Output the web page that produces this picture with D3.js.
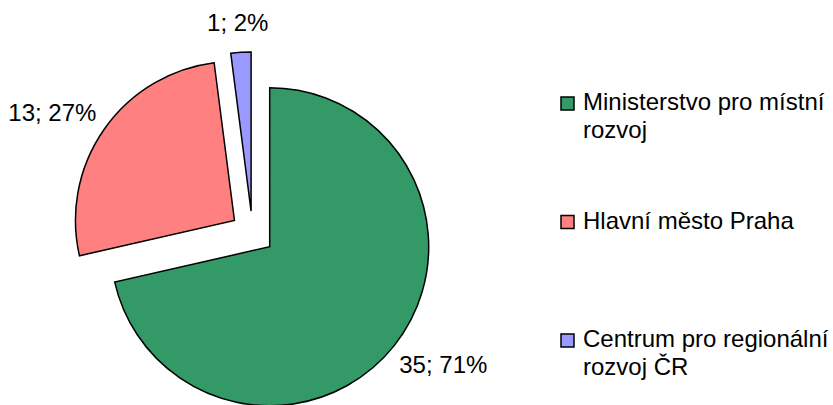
<!DOCTYPE html>
<html lang="cs">
  <head>
    <meta charset="UTF-8"/>
    <title>Pie</title>
    <script src="https://d3js.org/d3.v7.min.js"></script>
    <style>
      body { margin: 0; background: #fff; }
      text {
        font-family: 'Liberation Sans', Arial, sans-serif;
        font-size: 24px;
        fill: #000;
      }
      .slice {
        stroke: #000;
        stroke-width: 1.5px;
        stroke-linejoin: miter;
      }
    </style>
  </head>
  <body>
    <script type="text/javascript">

        // data
        const categories = ["Ministerstvo pro místní rozvoj", "Hlavní město Praha", "Centrum pro regionální rozvoj ČR"]
        const values = [35, 13, 1]
        const percents = ["71%", "27%", "2%"]
        const colors = ["#339966", "#FF8080", "#9999FF"]

        const outerWidth = 833,
              outerHeight = 405,
              cx = 252.5,
              cy = 233,
              radius = 159,
              explode = 22,
              labelRadius = 178,
              legend = ({x: 561, y: 110, step: 118.5, box: 13, lineHeight: 28, maxWidth: 252})

        const svg = d3.select("body").append("svg")
            .attr("width", outerWidth)
            .attr("height", outerHeight)

        const data = categories.map((c, i) => ({name: c, value: values[i], pct: percents[i], color: colors[i]}))

        const pie = d3.pie()
            .sort(null)
            .value(d => d.value)

        const arc = d3.arc()
            .innerRadius(0)
            .outerRadius(radius)

        const arcs = pie(data)

        const dirOf = d => {
            const a = (d.startAngle + d.endAngle) / 2
            return [Math.sin(a), -Math.cos(a)]
        }

        const g = svg.append("g")
            .attr("transform", `translate(${cx},${cy})`)

        g.selectAll("path")
            .data(arcs)
            .join("path")
            .attr("class", "slice")
            .attr("fill", d => d.data.color)
            .attr("transform", d => {
                const [dx, dy] = dirOf(d)
                return `translate(${dx * explode},${dy * explode})`
            })
            .attr("d", arc)

        // data labels, outside end: box pushed out along the bisector
        g.selectAll("text.lbl")
            .data(arcs)
            .join("text")
            .attr("class", "lbl")
            .attr("text-anchor", "middle")
            .each(function(d) {
                const [dx, dy] = dirOf(d)
                const t = d3.select(this).text(`${d.data.value}; ${d.data.pct}`)
                const w = this.getComputedTextLength(), h = 22
                const r = explode + labelRadius
                const mx = dx * r + dx * w / 2
                const my = dy * r + dy * h / 2
                t.attr("x", mx).attr("y", my + 8.5)
            })

        // legend
        const lg = svg.append("g")

        data.forEach((d, i) => {
            const y0 = legend.y + i * legend.step
            lg.append("rect")
                .attr("x", legend.x)
                .attr("y", y0 - legend.box)
                .attr("width", legend.box)
                .attr("height", legend.box)
                .attr("fill", d.color)
                .attr("stroke", "#000")
                .attr("stroke-width", 1.5)

            const txt = lg.append("text")
                .attr("x", legend.x + 22)
                .attr("y", y0)

            // wrap words to the legend width
            const words = d.name.split(" ")
            let line = [], lineNo = 0
            let tspan = txt.append("tspan").attr("x", legend.x + 22).attr("y", y0)
            words.forEach(w => {
                line.push(w)
                tspan.text(line.join(" "))
                if (tspan.node().getComputedTextLength() > legend.maxWidth && line.length > 1) {
                    line.pop()
                    tspan.text(line.join(" "))
                    line = [w]
                    lineNo++
                    tspan = txt.append("tspan")
                        .attr("x", legend.x + 22)
                        .attr("y", y0 + lineNo * legend.lineHeight)
                        .text(w)
                }
            })
        })

    </script>
  </body>
</html>
